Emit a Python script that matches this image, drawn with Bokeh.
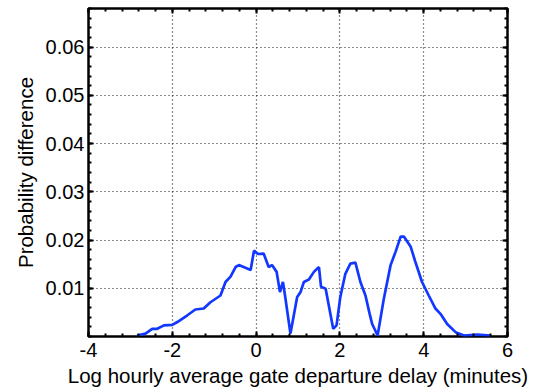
import numpy as np
from bokeh.plotting import figure
from bokeh.models import ColumnDataSource, Range1d, FixedTicker, LinearAxis
from bokeh.embed import file_html
from bokeh.resources import INLINE

# Log hourly average gate departure delay (minutes)
delay = [-2.84, -2.64, -2.48, -2.36, -2.20, -2.00, -1.88, -1.64, -1.45, -1.25,
         -1.09, -0.85, -0.73, -0.61, -0.49, -0.41, -0.13, -0.05, 0.03, 0.06,
         0.18, 0.30, 0.38, 0.49, 0.57, 0.64, 0.69, 0.82, 0.98, 1.06,
         1.14, 1.26, 1.38, 1.50, 1.55, 1.66, 1.84, 1.92, 2.01, 2.13,
         2.25, 2.37, 2.49, 2.61, 2.71, 2.77, 2.90, 3.05, 3.21, 3.33,
         3.45, 3.53, 3.69, 3.80, 3.96, 4.12, 4.28, 4.40, 4.56, 4.76,
         4.96, 5.28, 5.59]
# Probability difference
prob_diff = [0.0002, 0.0006, 0.0016, 0.0016, 0.0023, 0.0024, 0.0030, 0.0044, 0.0056, 0.0058,
             0.0071, 0.0085, 0.0113, 0.0124, 0.0144, 0.0148, 0.0138, 0.0178, 0.0172, 0.0171,
             0.0172, 0.0144, 0.0148, 0.0134, 0.0092, 0.0113, 0.0085, 0.0006, 0.0082, 0.0092,
             0.0113, 0.0118, 0.0134, 0.0144, 0.0103, 0.0099, 0.0016, 0.0023, 0.0082, 0.0130,
             0.0151, 0.0153, 0.0113, 0.0085, 0.0047, 0.0026, 0.0002, 0.0079, 0.0148, 0.0176,
             0.0207, 0.0207, 0.0186, 0.0155, 0.0113, 0.0085, 0.0058, 0.0047, 0.0026, 0.0009,
             0.0002, 0.0004, 0.0002]

x_ticks = [-4, -2, 0, 2, 4, 6]
x_tick_labels = ["-4", "-2", "0", "2", "4", "6"]
y_ticks = [0.01, 0.02, 0.03, 0.04, 0.05, 0.06]
y_tick_labels = ["0.01", "0.02", "0.03", "0.04", "0.05", "0.06"]

FONT = "Liberation Sans"

p = figure(width=536, height=392, output_backend="svg", toolbar_location=None,
           x_range=Range1d(-4, 6), y_range=Range1d(0, 0.068),
           min_border_left=88, min_border_right=29, min_border_top=8,
           min_border_bottom=56)
p.background_fill_color = "white"
p.border_fill_color = "white"
p.outline_line_color = "black"
p.outline_line_width = 2.5

src = ColumnDataSource(data=dict(x=delay, y=prob_diff))
p.line("x", "y", source=src, line_color="#1238ff", line_width=2.7)

x_minor = list(np.round(np.arange(-4, 6.001, 0.4), 4))
y_minor = list(np.round(np.arange(0, 0.0681, 0.002), 5))
xt = FixedTicker(ticks=x_ticks, minor_ticks=x_minor)
yt = FixedTicker(ticks=y_ticks, minor_ticks=y_minor)

p.xaxis.ticker = xt
p.yaxis.ticker = yt
p.xgrid.ticker = xt
p.ygrid.ticker = yt
p.xaxis.major_label_overrides = dict(zip(x_ticks, x_tick_labels))
p.yaxis.major_label_overrides = dict(zip(y_ticks, y_tick_labels))


def style_ticks(ax):
    ax.axis_line_color = None
    ax.major_tick_in = 5
    ax.major_tick_out = 0
    ax.minor_tick_in = 3
    ax.minor_tick_out = 0
    ax.major_tick_line_color = "black"
    ax.major_tick_line_width = 2
    ax.minor_tick_line_color = "black"
    ax.minor_tick_line_width = 2


for ax in (p.xaxis[0], p.yaxis[0]):
    style_ticks(ax)
    ax.major_label_text_font = FONT
    ax.major_label_text_font_size = "20px"
    ax.major_label_text_color = "black"
    ax.axis_label_text_font = FONT
    ax.axis_label_text_font_size = "20.5px"
    ax.axis_label_text_font_style = "normal"
    ax.axis_label_text_color = "black"

p.xaxis.axis_label = "Log hourly average gate departure delay (minutes)"
p.yaxis.axis_label = "Probability difference"
p.xaxis.major_label_standoff = 6
p.yaxis.major_label_standoff = 4
p.xaxis.axis_label_standoff = 4
p.yaxis.axis_label_standoff = 6

# tick marks on the top and right edges of the box
for side, tk in (("above", xt), ("right", yt)):
    ax = LinearAxis(ticker=tk)
    style_ticks(ax)
    ax.major_label_text_font_size = "0px"
    ax.major_label_text_color = None
    ax.major_label_standoff = 0
    p.add_layout(ax, side)

for g in (p.xgrid[0], p.ygrid[0]):
    g.grid_line_color = "black"
    g.grid_line_dash = "1 3"
    g.grid_line_width = 1.2
    g.grid_line_alpha = 0.9

open("out.html", "w").write(file_html(p, INLINE))
